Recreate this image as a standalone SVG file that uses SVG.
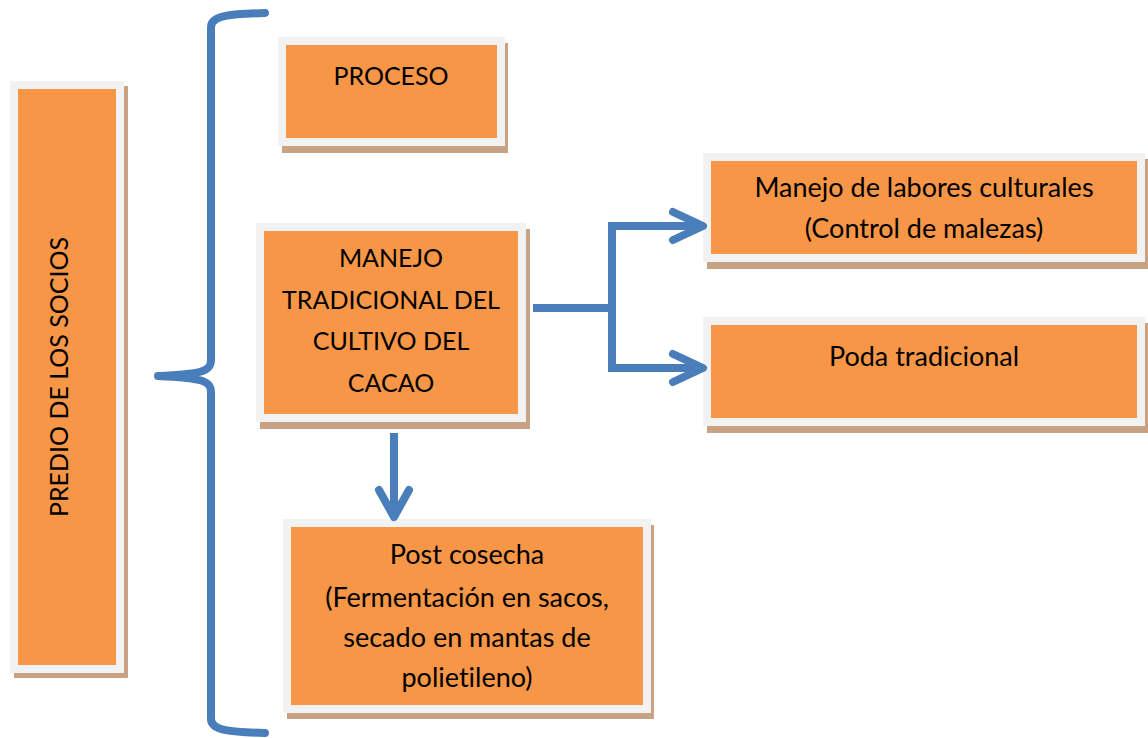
<svg xmlns="http://www.w3.org/2000/svg" width="1148" height="738" viewBox="0 0 1148 738">
<defs>
<style>
.sh{fill:#c9a183}
.bx{fill:#f79646;stroke:#f2f2f2;stroke-width:8}
.t{font-family:Lato,"Liberation Sans",sans-serif;font-size:25px;fill:#000;text-anchor:middle;font-variant-ligatures:none}
.m{font-size:27px}
.ln{fill:none;stroke:#4a7ebb;stroke-width:8}
.ar{fill:none;stroke:#4a7ebb;stroke-width:8;stroke-linecap:round;stroke-linejoin:round}
</style>
</defs>
<rect width="1148" height="738" fill="#fff"/>
<g id="predio">
<rect class="sh" x="14" y="86" width="114" height="592"/>
<rect class="bx" x="14" y="85" width="106" height="584"/>
<text class="t" transform="translate(68 377) rotate(-90)">PREDIO DE LOS SOCIOS</text>
</g>
<g id="proceso">
<rect class="sh" x="282" y="43" width="226" height="110"/>
<rect class="bx" x="282" y="41" width="219" height="101"/>
<text class="t" x="391" y="85">PROCESO</text>
</g>
<g id="manejo">
<rect class="sh" x="260" y="229" width="270" height="200"/>
<rect class="bx" x="260" y="227" width="262" height="191"/>
<text class="t" x="391" y="267">MANEJO</text>
<text class="t" x="391" y="309">TRADICIONAL DEL</text>
<text class="t" x="391" y="350">CULTIVO DEL</text>
<text class="t" x="391" y="392">CACAO</text>
</g>
<g id="labores">
<rect class="sh" x="707" y="159" width="442" height="110"/>
<rect class="bx" x="707" y="157" width="434" height="101"/>
<text class="t m" x="924" y="197">Manejo de labores culturales</text>
<text class="t m" x="924" y="238">(Control de malezas)</text>
</g>
<g id="poda">
<rect class="sh" x="707" y="323" width="442" height="110"/>
<rect class="bx" x="707" y="321" width="434" height="101"/>
<text class="t m" x="924" y="366">Poda tradicional</text>
</g>
<g id="postcosecha">
<rect class="sh" x="287" y="525" width="367" height="194"/>
<rect class="bx" x="287" y="523" width="360" height="186"/>
<text class="t m" x="467" y="564">Post cosecha</text>
<text class="t m" x="467" y="607">(Fermentación en sacos,</text>
<text class="t m" x="467" y="647">secado en mantas de</text>
<text class="t m" x="467" y="687">polietileno)</text>
</g>
<g id="connectors">
<path class="ar" d="M265 13 C232 14 211 15 211 27 L211 360 C211 372 200 374 158 376 C200 378 211 380 211 392 L211 719 C211 731 232 732 265 733"/>
<path class="ln" d="M533 308 H612 M612 222 V372 M608 226 H703 M608 368 H703"/>
<path class="ar" d="M673 212 L703 226 L673 240 M673 354 L703 368 L673 382"/>
<path class="ln" d="M394 433 V516"/>
<path class="ar" d="M379 490 L394 517 L409 490"/>
</g>
</svg>
